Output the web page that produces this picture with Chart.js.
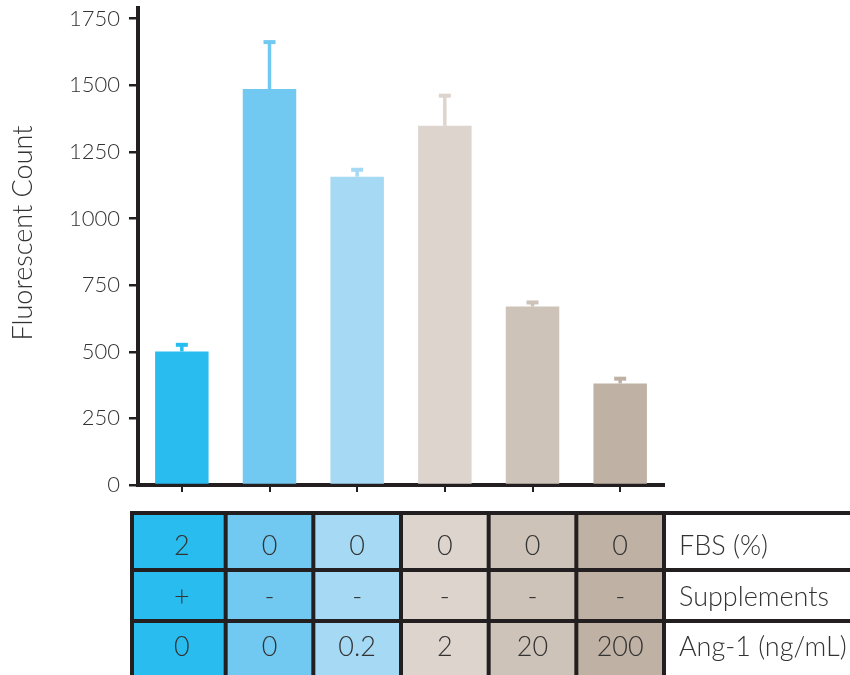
<!DOCTYPE html>
<html>
<head>
<meta charset="utf-8">
<script src="https://cdn.jsdelivr.net/npm/chart.js@4.4.1/dist/chart.umd.min.js"></script>
<style>
  html, body { margin: 0; padding: 0; background: #ffffff; }
  #wrap { width: 850px; height: 675px; }
</style>
</head>
<body>
<div id="wrap"><canvas id="c" width="850" height="675"></canvas></div>
<script>
// Treatment groups (one bar and one table column each)
const groups = ['G1', 'G2', 'G3', 'G4', 'G5', 'G6'];
// Mean fluorescent count per group and upper error (SEM)
const meanCounts = [501, 1486, 1157, 1348, 670, 381];
const semCounts = [25, 176, 26, 113, 15, 18];
// Y-axis tick values
const yTicks = [0, 250, 500, 750, 1000, 1250, 1500, 1750];
// Conditions table under the bars
const fbsPercent = ['2', '0', '0', '0', '0', '0'];
const supplements = ['+', '-', '-', '-', '-', '-'];
const ang1 = ['0', '0', '0.2', '2', '20', '200'];
const rowLabels = ['FBS (%)', 'Supplements', 'Ang-1 (ng/mL)'];
const groupColors = ['#29BDEF', '#71C9F2', '#A5D9F4', '#DDD4CE', '#CDC3B9', '#BFB1A4'];

const FONT = 'Lato';
const INK = '#231F20';
const TEXT = '#333333';

// Upward-only error bars with caps
const errorBars = {
  id: 'errorBars',
  afterDatasetsDraw(chart) {
    const ctx = chart.ctx;
    const y = chart.scales.y;
    chart.getDatasetMeta(0).data.forEach((bar, i) => {
      const top = y.getPixelForValue(meanCounts[i] + semCounts[i]);
      ctx.save();
      ctx.strokeStyle = groupColors[i];
      ctx.lineWidth = 3.5;
      ctx.beginPath();
      ctx.moveTo(bar.x, bar.y);
      ctx.lineTo(bar.x, top);
      ctx.stroke();
      ctx.lineWidth = 4;
      ctx.beginPath();
      ctx.moveTo(bar.x - 6, top);
      ctx.lineTo(bar.x + 6, top);
      ctx.stroke();
      ctx.restore();
    });
  }
};

// Y-axis title
const yTitle = {
  id: 'yTitle',
  afterDraw(chart) {
    const ctx = chart.ctx;
    ctx.save();
    ctx.translate(23, 233);
    ctx.rotate(-Math.PI / 2);
    ctx.font = '300 27px ' + FONT;
    ctx.fillStyle = TEXT;
    ctx.textAlign = 'center';
    ctx.textBaseline = 'middle';
    ctx.fillText('Fluorescent Count', 0, 0);
    ctx.restore();
  }
};

// Conditions table aligned with the bar columns
const conditionTable = {
  id: 'conditionTable',
  afterDraw(chart) {
    const ctx = chart.ctx;
    const x = chart.scales.x;
    const half = (x.getPixelForValue(1) - x.getPixelForValue(0)) / 2;
    const rows = [fbsPercent, supplements, ang1];
    const rowEdges = [513, 570, 621, 680];
    const rowMid = [546, 597, 647];
    const leftEdge = x.getPixelForValue(0) - half - 6;
    const colEdges = groups.map((g, i) => x.getPixelForValue(i) - half);
    colEdges[0] = leftEdge;
    const lastEdge = x.getPixelForValue(groups.length - 1) + half;
    colEdges.push(lastEdge);

    ctx.save();
    // cell fills
    groups.forEach((g, i) => {
      ctx.fillStyle = groupColors[i];
      ctx.fillRect(colEdges[i], rowEdges[0], colEdges[i + 1] - colEdges[i], rowEdges[3] - rowEdges[0]);
    });
    // grid lines
    ctx.strokeStyle = INK;
    ctx.lineWidth = 4;
    ctx.beginPath();
    for (let r = 0; r < 3; r++) {
      ctx.moveTo(leftEdge - 2, rowEdges[r]);
      ctx.lineTo(850, rowEdges[r]);
    }
    colEdges.forEach(cx => {
      ctx.moveTo(cx, rowEdges[0]);
      ctx.lineTo(cx, rowEdges[3]);
    });
    ctx.stroke();
    // cell text
    ctx.fillStyle = TEXT;
    ctx.font = '300 27px ' + FONT;
    ctx.textAlign = 'center';
    ctx.textBaseline = 'middle';
    rows.forEach((row, r) => {
      row.forEach((v, i) => {
        ctx.fillText(v, x.getPixelForValue(i), rowMid[r]);
      });
    });
    // row labels
    ctx.textAlign = 'left';
    rowLabels.forEach((lab, r) => {
      ctx.fillText(lab, lastEdge + 15, rowMid[r]);
    });
    ctx.restore();
  }
};

new Chart(document.getElementById('c'), {
  type: 'bar',
  data: {
    labels: groups,
    datasets: [{
      data: meanCounts,
      backgroundColor: groupColors,
      borderWidth: 0,
      barPercentage: 0.61,
      categoryPercentage: 1
    }]
  },
  options: {
    responsive: false,
    animation: false,
    devicePixelRatio: 1,
    layout: { padding: { top: 8, right: 186, left: 0, bottom: 0 } },
    plugins: { legend: { display: false }, tooltip: { enabled: false } },
    scales: {
      x: {
        offset: true,
        afterFit(scale) { scale.height = 190; },
        grid: { offset: false, drawOnChartArea: false, drawTicks: true, tickLength: 7, color: INK, lineWidth: 2 },
        border: { color: INK, width: 4 },
        ticks: { callback: () => '' }
      },
      y: {
        min: 0,
        max: 1790,
        afterFit(scale) {
          scale.width = 138;
          scale.paddingTop = 0;
          scale.paddingBottom = 0;
        },
        afterBuildTicks(scale) { scale.ticks = yTicks.map(v => ({ value: v })); },
        grid: { drawOnChartArea: false, drawTicks: true, tickLength: 9, color: INK, lineWidth: 2.5 },
        border: { color: INK, width: 4 },
        ticks: {
          font: { family: FONT, size: 22, weight: '300' },
          color: TEXT,
          padding: 9,
          callback: (v) => String(v)
        }
      }
    }
  },
  plugins: [errorBars, yTitle, conditionTable]
});
</script>
</body>
</html>
